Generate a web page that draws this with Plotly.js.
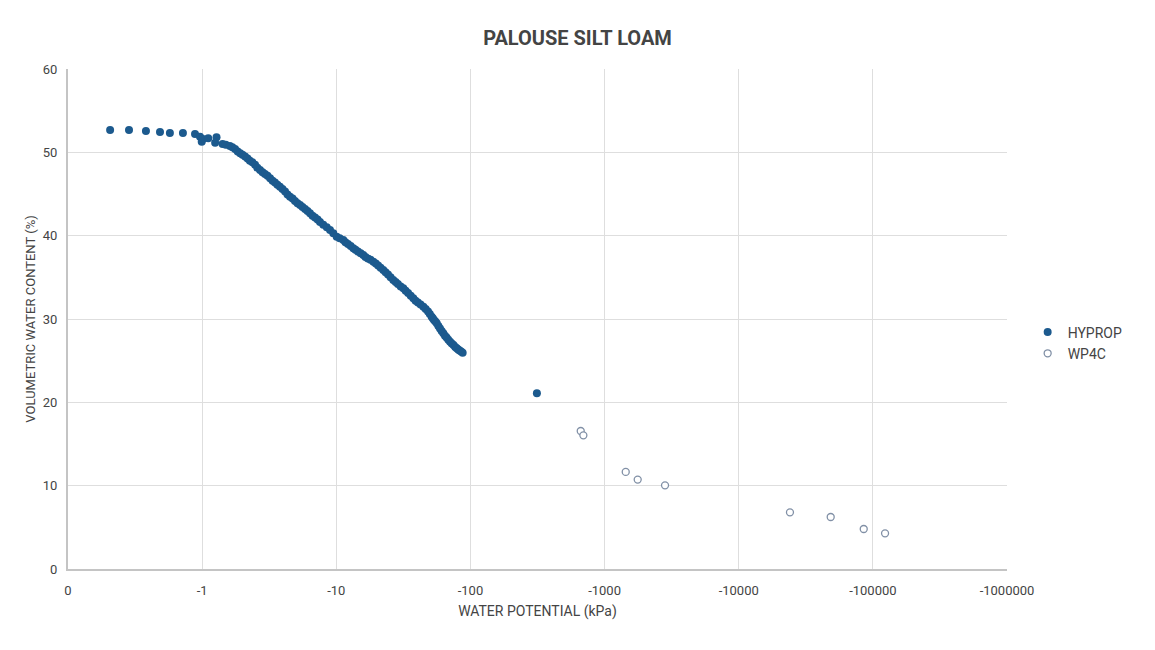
<!DOCTYPE html>
<html>
<head>
<meta charset="utf-8">
<script src="https://cdn.plot.ly/plotly-3.0.1.min.js"></script>
<style>
  html, body { margin: 0; padding: 0; background: #fff; }
  #chart { width: 1155px; height: 650px; }
</style>
</head>
<body>
<div id="chart"></div>
<script>
// water potential in kPa (negative), volumetric water content in %
var hypropPotential = [
    -0.206, -0.285, -0.381, -0.485, -0.575, -0.719, -0.885,
    -0.964, -0.993, -1.014, -1.11, -1.28, -1.25, -1.42, -1.50, -1.61, -1.68, -1.76, -1.84,
    -1.92, -2.0, -2.09, -2.18, -2.27, -2.37, -2.48, -2.58, -2.70, -2.82, -2.94, -3.07,
    -3.21, -3.35, -3.49, -3.64, -3.80, -3.97, -4.15, -4.33, -4.52, -4.72, -4.92, -5.14,
    -5.37, -5.6, -5.85, -6.1, -6.37, -6.65, -6.94, -7.25, -7.56, -8.0, -8.49,
    -8.98, -9.5, -10.07, -10.6, -11.28, -11.7, -12.22, -12.8, -13.4, -13.9, -14.5,
    -15.2, -15.9, -16.5, -17.2, -18.0, -18.9, -19.7, -20.5, -21.4, -22.4, -23.3,
    -24.3, -25.4, -26.6, -27.7, -28.8, -30.2, -31.6, -32.9, -34.3, -35.9, -37.5,
    -39.0, -40.6, -42.5, -44.6, -46.4, -48.3, -49.8, -51.4, -52.4, -53.5, -54.8,
    -56.1, -57.7, -59.3, -61.0, -62.8, -64.6, -66.4, -68.4, -70.5, -72.6, -74.8,
    -77.0, -79.1, -81.0, -83.0, -85.2, -87.5, -313
];
var hypropContent = [
    52.68, 52.68, 52.56, 52.44, 52.32, 52.32, 52.2,
    51.88, 51.28, 51.6, 51.68, 51.8, 51.16, 51.0, 50.9, 50.76, 50.6, 50.4, 50.1,
    49.88, 49.7, 49.5, 49.25, 49.0, 48.8, 48.5, 48.15, 47.88, 47.6, 47.4, 47.2,
    46.88, 46.6, 46.38, 46.1, 45.88, 45.6, 45.3, 44.95, 44.68, 44.45, 44.16, 43.9,
    43.68, 43.45, 43.2, 42.95, 42.68, 42.4, 42.18, 41.95, 41.64, 41.3, 41.0,
    40.68, 40.3, 39.88, 39.7, 39.48, 39.2, 39.0, 38.75, 38.48, 38.3, 38.1,
    37.9, 37.68, 37.45, 37.26, 37.1, 36.88, 36.65, 36.42, 36.15, 35.88, 35.6,
    35.34, 35.0, 34.68, 34.45, 34.2, 33.9, 33.68, 33.4, 33.12, 32.8, 32.48,
    32.2, 31.98, 31.75, 31.48, 31.2, 30.9, 30.6, 30.28, 30.1, 29.88, 29.7,
    29.48, 29.15, 28.86, 28.55, 28.28, 28.0, 27.78, 27.5, 27.28, 27.05, 26.88,
    26.65, 26.48, 26.35, 26.22, 26.1, 25.96, 21.1
];
var wp4cPotential = [-664, -695, -1438, -1766, -2823, -24100, -48500, -85500, -123300];
var wp4cContent = [16.56, 16.04, 11.65, 10.73, 10.04, 6.8, 6.24, 4.80, 4.28];

var tickValues = [0.1, 1, 10, 100, 1000, 10000, 100000, 1000000];
var tickLabels = ['0', '-1', '-10', '-100', '-1000', '-10000', '-100000', '-1000000'];

var fontFamily = 'Roboto, "Liberation Sans", Arial, sans-serif';

var plotdata = [
    {
        x: hypropPotential.map(function(v) { return Math.abs(v); }),
        y: hypropContent,
        mode: 'markers',
        type: 'scatter',
        name: 'HYPROP',
        marker: { color: '#1c5a8e', size: 8 }
    },
    {
        x: wp4cPotential.map(function(v) { return Math.abs(v); }),
        y: wp4cContent,
        mode: 'markers',
        type: 'scatter',
        name: 'WP4C',
        marker: {
            color: 'rgba(255,255,255,1)',
            size: 7,
            line: { color: '#8190a6', width: 1.3 }
        }
    }
];

var layout = {
    width: 1155,
    height: 650,
    paper_bgcolor: '#fff',
    plot_bgcolor: '#fff',
    font: { family: fontFamily, color: '#444', size: 13 },
    title: {
        text: '<b>PALOUSE SILT LOAM</b>',
        font: { family: fontFamily, size: 20, color: '#444' },
        x: 0.5,
        y: 0.942,
        yanchor: 'middle'
    },
    margin: { l: 68, r: 148, t: 69, b: 81 },
    xaxis: {
        type: 'log',
        range: [-1, 6],
        tickvals: tickValues,
        ticktext: tickLabels,
        showgrid: true,
        gridcolor: '#dedede',
        gridwidth: 1,
        showline: true,
        linecolor: '#c4c4c4',
        linewidth: 2,
        zeroline: false,
        ticks: '',
        ticklabelstandoff: 8,
        tickfont: { size: 13, color: '#444' },
        title: {
            text: 'WATER POTENTIAL (kPa)',
            font: { size: 14, color: '#444' },
            standoff: 10
        }
    },
    yaxis: {
        range: [0, 60],
        dtick: 10,
        showgrid: true,
        gridcolor: '#dedede',
        gridwidth: 1,
        showline: true,
        linecolor: '#c4c4c4',
        linewidth: 2,
        zeroline: false,
        ticks: '',
        ticklabelstandoff: 6,
        tickfont: { size: 13, color: '#444' },
        title: {
            text: 'VOLUMETRIC WATER CONTENT (%)',
            font: { size: 13, color: '#444' },
            standoff: 4
        }
    },
    legend: {
        x: 1.022,
        xanchor: 'left',
        y: 0.452,
        yanchor: 'middle',
        font: { size: 14, color: '#444' },
        itemwidth: 30,
        tracegroupgap: 4
    },
    showlegend: true
};

Plotly.newPlot(document.getElementById('chart'), plotdata, layout, {staticPlot: true, displayModeBar: false});
</script>
</body>
</html>
